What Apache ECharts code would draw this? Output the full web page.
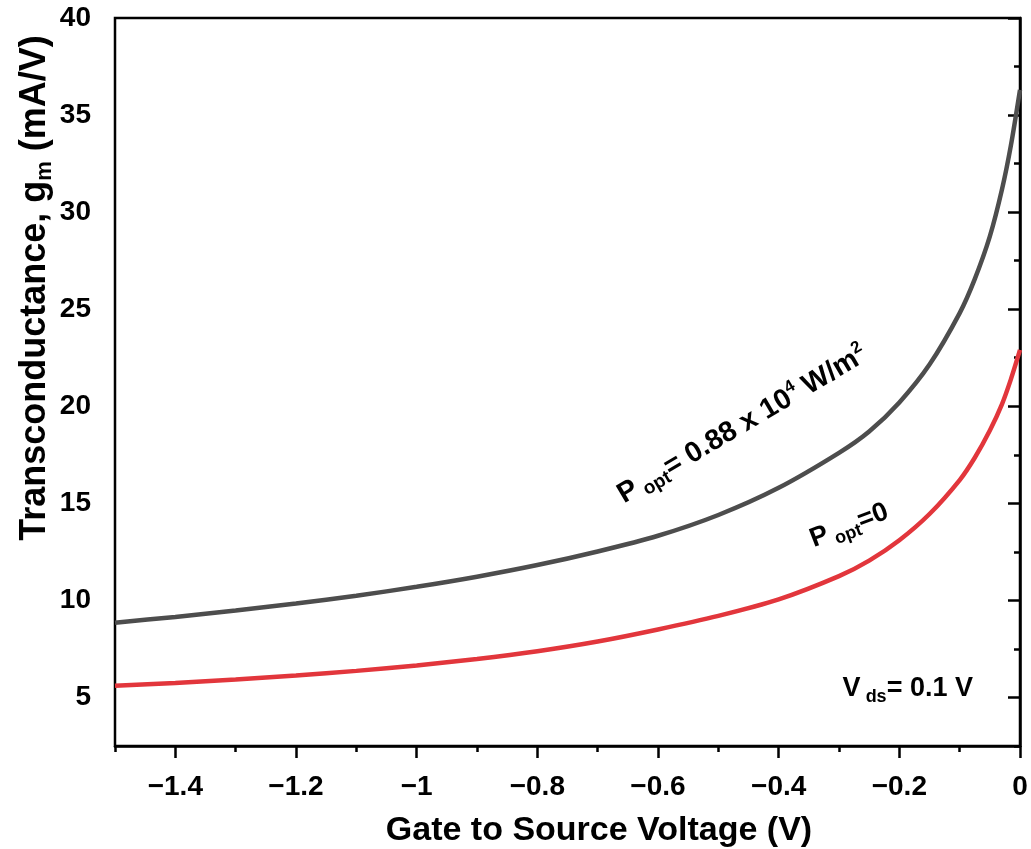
<!DOCTYPE html>
<html>
<head>
<meta charset="utf-8">
<style>
  html, body { margin: 0; padding: 0; background: #fff; }
  #chart { width: 1031px; height: 849px; }
</style>
<script src="https://cdn.jsdelivr.net/npm/echarts@6/dist/echarts.min.js"></script>
</head>
<body>
<div id="chart"></div>
<script>
// gate-source voltage (V) sample points
const vgs = [-1.5, -1.4, -1.3, -1.2, -1.1, -1.0, -0.9, -0.8, -0.7, -0.6, -0.5, -0.4,
  -0.3, -0.25, -0.2, -0.15, -0.1, -0.075, -0.05, -0.03, -0.015, 0];
// gm under illumination, P_opt = 0.88e4 W/m2 (grey curve)
const gmIllum = [8.85, 9.15, 9.48, 9.84, 10.24, 10.7, 11.22, 11.82, 12.52, 13.33, 14.4, 15.8,
  17.6, 18.7, 20.2, 22.15, 24.8, 26.55, 28.75, 31.15, 33.45, 36.3];
// gm in dark, P_opt = 0 (red curve)
const gmDark = [5.6, 5.75, 5.93, 6.13, 6.37, 6.65, 6.98, 7.38, 7.88, 8.5, 9.2, 10.05,
  11.25, 12.05, 13.1, 14.45, 16.2, 17.35, 18.75, 20.1, 21.4, 22.9];

const xMajor = [-1.4, -1.2, -1.0, -0.8, -0.6, -0.4, -0.2, 0];
const xMinor = [-1.5, -1.3, -1.1, -0.9, -0.7, -0.5, -0.3, -0.1];
const yMajor = [5, 10, 15, 20, 25, 30, 35, 40];
const yMinor = [2.5, 7.5, 12.5, 17.5, 22.5, 27.5, 32.5, 37.5];

const FONT = '"Liberation Sans", Arial, sans-serif';

const chart = echarts.init(document.getElementById('chart'));

const pair = (xs, ys) => xs.map((x, i) => [x, ys[i]]);
const minusFmt = v => (v === 0 ? '0' : (v < 0 ? '\u2212' : '') + Math.abs(v));

const baseX = { type: 'value', min: -1.5, max: 0, position: 'bottom', splitLine: { show: false } };
const baseY = { type: 'value', min: 2.5, max: 40, position: 'left', splitLine: { show: false } };
const tickFont = { color: '#000', fontSize: 28, fontWeight: 'bold', fontFamily: FONT };

chart.setOption({
  animation: false,
  backgroundColor: '#fff',
  grid: { left: 115, right: 11, top: 18, bottom: 103, show: true, borderColor: '#000', borderWidth: 2.5 },
  xAxis: [
    Object.assign({}, baseX, {
      axisLine: { lineStyle: { color: '#000', width: 2.5 } },
      axisTick: { customValues: xMajor, length: 12, lineStyle: { color: '#000', width: 2.5 } },
      axisLabel: Object.assign({ customValues: xMajor, formatter: minusFmt, margin: 27 }, tickFont)
    }),
    Object.assign({}, baseX, {
      axisLine: { show: false },
      axisTick: { customValues: xMinor, length: 6, lineStyle: { color: '#000', width: 2.5 } },
      axisLabel: { show: false }
    })
  ],
  yAxis: [
    Object.assign({}, baseY, {
      axisLine: { lineStyle: { color: '#000', width: 2.5 } },
      axisTick: { customValues: yMajor, length: 12, lineStyle: { color: '#000', width: 2.5 } },
      axisLabel: Object.assign({ customValues: yMajor, margin: 24 }, tickFont)
    }),
    Object.assign({}, baseY, {
      axisLine: { show: false },
      axisTick: { customValues: yMinor, length: 6, lineStyle: { color: '#000', width: 2.5 } },
      axisLabel: { show: false }
    })
  ],
  series: [
    {
      name: 'P_opt = 0.88e4 W/m2',
      type: 'line',
      data: pair(vgs, gmIllum),
      showSymbol: false,
      smooth: 0.25,
      lineStyle: { color: '#4d4d4d', width: 4.5 },
      z: 3
    },
    {
      name: 'P_opt = 0',
      type: 'line',
      data: pair(vgs, gmDark),
      showSymbol: false,
      smooth: 0.25,
      lineStyle: { color: '#e2363c', width: 4.5 },
      z: 3
    }
  ]
});

// annotations placed in data space
const px = (x, y) => chart.convertToPixel({ xAxisIndex: 0, yAxisIndex: 0 }, [x, y]);
const rich = {
  a: { fill: '#000', fontSize: 27, fontWeight: 'bold', fontFamily: FONT, lineHeight: 34, verticalAlign: 'middle' },
  sub: { fill: '#000', fontSize: 18, fontWeight: 'bold', fontFamily: FONT, lineHeight: 18, verticalAlign: 'bottom', padding: [0, 0, 0, 5] },
  sup: { fill: '#000', fontSize: 16, fontWeight: 'bold', fontFamily: FONT, lineHeight: 18, verticalAlign: 'top' }
};
const richBig = Object.assign({}, rich, {
  a: Object.assign({}, rich.a, { fontSize: 28.5 }),
  sub: Object.assign({}, rich.sub, { fontSize: 19 }),
  sup: Object.assign({}, rich.sup, { fontSize: 17 })
});

function label(pos, text, deg, r) {
  return {
    type: 'text',
    x: pos[0],
    y: pos[1],
    rotation: deg * Math.PI / 180,
    z: 10,
    style: { text: text, rich: r || rich, align: 'center', verticalAlign: 'middle', fill: '#000' }
  };
}

const pIll = px(-0.46, 19.05);
const pDark = px(-0.283, 13.85);
const pVds = px(-0.186, 5.45);

chart.setOption({
  graphic: [
    label(pIll, '{a|P}{sub|opt}{a|= 0.88 x 10}{sup|4}{a| W/m}{sup|2}', 30.5, richBig),
    label(pDark, '{a|P}{sub|opt}{a|=0}', 21),
    label(pVds, '{a|V}{sub|ds}{a|= 0.1 V}', 0),
    {
      // x-axis title
      type: 'text',
      x: 599,
      y: 831,
      style: {
        text: 'Gate to Source Voltage (V)',
        align: 'center',
        verticalAlign: 'middle',
        fill: '#000',
        fontSize: 34,
        fontWeight: 'bold',
        fontFamily: FONT
      }
    },
    {
      // y-axis title
      type: 'text',
      x: 35,
      y: 288,
      rotation: Math.PI / 2,
      style: {
        text: '{t|Transconductance, g}{s|m}{t| (mA/V)}',
        align: 'center',
        verticalAlign: 'middle',
        fill: '#000',
        rich: {
          t: { fill: '#000', fontSize: 36, fontWeight: 'bold', fontFamily: FONT, lineHeight: 42, verticalAlign: 'middle' },
          s: { fill: '#000', fontSize: 22, fontWeight: 'bold', fontFamily: FONT, lineHeight: 22, verticalAlign: 'bottom' }
        }
      }
    }
  ]
});

window.addEventListener('resize', () => chart.resize());
</script>
</body>
</html>
